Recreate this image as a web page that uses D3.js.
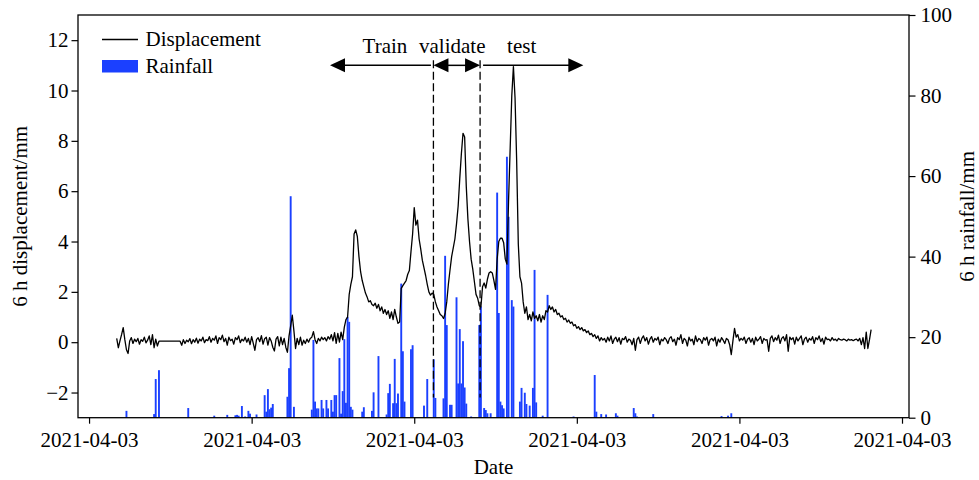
<!DOCTYPE html>
<html>
<head>
<meta charset="utf-8">
<script src="https://cdn.jsdelivr.net/npm/d3@7"></script>
<style>
  body { margin: 0; background: #fff; }
  svg { display: block; }
  text { font-family: "Liberation Serif", "Times New Roman", serif; fill: #000; }
</style>
</head>
<body>
<svg id="chart" width="979" height="480"></svg>
<script>
// x is a step index (6 h each); the axis shows the same date label on every tick
var tickVals = [0, 100, 200, 300, 400, 500];
var tickLabels = ["2021-04-03", "2021-04-03", "2021-04-03", "2021-04-03", "2021-04-03", "2021-04-03"];

// displacement series, one value per step starting at dispStart
var dispStart = 17;
var displacement = [
  0.15,-0.22,0.05,0.3,0.58,0.1,-0.3,-0.45,0.05,0.18,-0.05,0.12,0.02,0.15,-0.08,0.1,0.04,0.2,-0.03,0.08,
  0.25,-0.1,0.3,-0.22,0.12,-0.15,0.04,0.04,0.04,0.04,0.04,0.04,0.04,0.04,0.04,0.04,0.04,0.04,0.04,0.04,
  -0.12,0.1,-0.05,0.08,0.02,0.14,-0.06,0.1,0.0,0.16,-0.04,0.12,0.05,0.2,-0.02,0.1,0.06,0.22,0.0,0.15,
  0.08,0.25,-0.05,0.18,0.1,0.28,0.02,0.15,-0.12,0.2,0.06,0.12,-0.08,0.18,0.1,0.25,-0.02,0.12,0.05,0.2,
  0.0,0.15,-0.1,0.22,-0.05,-0.32,0.1,0.18,0.02,0.26,-0.08,0.14,0.2,-0.12,0.18,0.05,-0.2,-0.35,0.12,0.22,
  -0.15,0.2,-0.1,0.15,-0.2,-0.4,0.25,0.65,1.07,0.45,-0.25,0.15,-0.1,0.2,-0.12,0.08,-0.05,0.12,0.0,0.15,
  0.2,0.42,0.1,-0.05,0.15,0.05,0.2,0.1,0.18,0.05,0.22,0.12,0.3,0.05,0.38,-0.05,0.35,0.0,0.4,0.1,
  0.6,0.9,1.0,1.9,2.3,2.6,4.3,4.46,4.2,3.4,2.8,2.45,2.2,1.95,1.8,1.6,1.65,1.5,1.45,1.55,
  1.35,1.5,1.25,1.4,1.15,1.3,1.1,1.25,0.95,1.2,0.9,1.3,1.0,0.75,0.8,2.14,2.25,2.35,2.45,2.7,
  2.85,3.6,4.3,5.35,4.65,4.85,4.1,3.7,3.25,2.95,2.65,2.3,2.0,1.87,1.95,1.9,1.6,1.4,1.25,1.1,
  1.05,0.94,1.14,1.6,2.3,2.87,3.4,3.75,4.1,4.7,5.4,6.5,7.5,8.3,8.15,6.2,4.9,4.0,3.3,2.9,
  2.4,1.9,1.75,1.45,1.4,2.2,2.35,2.15,2.5,2.75,2.8,2.75,2.45,2.1,3.3,4.0,4.13,4.13,3.95,3.3,
  3.1,5.6,7.7,9.8,10.95,9.7,7.2,3.9,2.6,2.35,1.6,1.15,1.4,0.9,1.1,0.85,1.2,0.95,1.05,0.85,
  1.1,0.8,1.05,0.9,1.25,1.2,1.45,1.3,1.4,1.2,1.3,1.1,1.15,1.0,1.05,0.9,0.95,0.8,0.88,0.75,
  0.8,0.65,0.7,0.55,0.62,0.5,0.58,0.45,0.5,0.38,0.45,0.3,0.35,0.22,0.3,0.15,0.25,0.05,0.18,0.08,
  0.15,0.0,0.2,0.05,0.25,-0.05,0.12,0.2,0.02,0.18,-0.08,0.15,0.1,0.22,0.0,0.12,0.08,-0.1,0.15,-0.32,
  0.1,0.2,-0.05,0.15,0.25,0.05,0.18,-0.08,0.12,0.22,0.0,0.15,0.08,0.2,-0.1,0.12,0.05,0.18,0.1,-0.05,
  0.15,0.22,0.02,0.12,-0.12,0.18,0.1,0.3,-0.05,0.15,0.08,-0.15,0.2,0.05,0.12,-0.1,0.25,0.02,0.15,0.1,
  -0.05,0.18,0.08,0.2,-0.12,0.1,0.15,0.05,0.2,-0.15,0.12,0.0,0.18,0.08,-0.05,0.15,0.1,-0.1,-0.49,0.05,
  0.55,0.2,0.3,0.05,0.15,0.08,0.2,-0.05,0.12,0.18,0.0,0.15,-0.1,0.2,0.05,0.12,0.22,-0.05,0.15,0.08,
  0.1,-0.36,0.15,0.25,0.02,0.18,0.08,0.28,-0.05,0.15,0.22,0.05,0.3,-0.36,0.2,0.1,0.18,-0.08,0.2,0.05,
  0.15,0.25,-0.1,0.12,0.2,0.0,0.15,0.08,0.22,-0.05,0.18,0.1,0.25,0.02,0.15,-0.08,0.2,0.1,0.12,0.05,
  0.18,0.08,0.12,0.05,0.15,0.1,0.08,0.12,0.1,0.05,0.12,0.08,0.1,0.06,0.1,0.12,0.05,0.15,-0.1,0.18,-0.25,0.4,-0.25,0.1,0.5
];

// rainfall: step index and 6 h rainfall (mm), zero steps left out
var rainIdx = [23,40,41,43,61,77,85,90,91,92,94,96,98,99,103,108,109,110,111,112,
  113,122,123,124,126,137,138,139,140,141,143,144,146,147,149,150,151,152,154,155,
  156,157,158,159,160,161,162,168,169,174,175,178,183,184,185,187,188,189,190,192,
  193,194,198,199,206,208,212,213,218,219,220,222,223,226,227,228,229,230,231,232,
  235,240,241,243,244,245,247,251,252,253,254,255,257,258,260,261,265,266,268,269,
  271,273,274,275,279,282,298,311,312,315,318,324,325,335,336,337,347,389,393,395];
var rainVal = [1.7,0.9,9.6,11.8,2.4,0.5,0.7,0.6,0.7,0.5,2.9,0.3,1.7,1.0,0.8,5.6,1.5,7.1,2.1,2.5,
  3.4,5.2,12.3,55,2.7,2.0,19.3,4.0,2.3,2.3,4.4,2.3,4.4,2.3,4.4,1.5,5.6,5.6,14.8,1.0,
  6.6,19.5,3.7,25,23.8,2.7,2.0,1.5,2.6,1.7,6.3,15.3,0.8,6.1,8.4,3.6,14.6,3.6,6.0,33.3,
  16.5,4.0,17,18,3.0,9.6,14.5,4.9,4.8,40.2,23,3.2,3.2,29.9,8.5,22,8.5,19,7.5,3.5,
  0.3,23,27.6,2.4,1.9,1.1,1.1,55.9,26,4.0,3.1,2.3,64.8,49.9,29.2,27.6,4.0,7.4,6.2,3.4,
  3.0,7.4,36.7,3.8,0.5,30.5,0.3,10.6,1.5,0.9,0.8,1.1,0.5,2.4,1.1,0.3,0.9,0.4,0.5,1.1];

// data split (train | validate | test), in step index
var splits = [211.8, 240.5];
var trainTip = 148.2, testTip = 304;
var splitNames = ["Train", "validate", "test"];
var splitTextAt = [182, 223.4, 266.1];

var svg = d3.select("#chart");
var pLeft = 78, pRight = 909, pTop = 15, pBottom = 417.7;
var fs = 21;

var x = d3.scaleLinear().domain([-6.8, 504.3]).range([pLeft, pRight]);
var y = d3.scaleLinear().domain([-3, 13]).range([pBottom, pTop]);
var y2 = d3.scaleLinear().domain([0, 100]).range([pBottom, pTop]);

// rainfall bars (behind the line)
svg.append("g").selectAll("rect")
    .data(rainIdx)
  .enter().append("rect")
    .attr("x", function(d) { return x(d) - 0.95; })
    .attr("width", 1.9)
    .attr("y", function(d, i) { return y2(rainVal[i]); })
    .attr("height", function(d, i) { return y2(0) - y2(rainVal[i]); })
    .attr("fill", "#1b40ff");

var line = d3.line()
    .x(function(d, i) { return x(dispStart + i); })
    .y(function(d) { return y(d); });

svg.append("path")
    .datum(displacement)
    .attr("d", line)
    .attr("fill", "none")
    .attr("stroke", "#000")
    .attr("stroke-width", 1.3)
    .attr("stroke-linejoin", "round");

// dashed split lines
svg.append("g").selectAll("line")
    .data(splits)
  .enter().append("line")
    .attr("x1", function(d) { return x(d); })
    .attr("x2", function(d) { return x(d); })
    .attr("y1", y(11.2))
    .attr("y2", y(-2.2))
    .attr("stroke", "#000")
    .attr("stroke-width", 1.3)
    .attr("stroke-dasharray", "8,3.5");

// arrows
var ay = y(11), hl = 15, hw = 7;
function head(tip, dir) {
  var bx = tip - dir * hl;
  return "M" + tip + "," + ay + "L" + bx + "," + (ay - hw) + "L" + bx + "," + (ay + hw) + "Z";
}
var arr = svg.append("g");
function seg(a, b) {
  arr.append("line").attr("x1", a).attr("x2", b).attr("y1", ay).attr("y2", ay)
    .attr("stroke", "#000").attr("stroke-width", 1.5);
}
seg(x(splits[0]) - 2.5, x(trainTip) + hl - 1);
arr.append("path").attr("d", head(x(trainTip), -1));
seg(x(splits[0]) + hl - 1, x(splits[1]) - hl + 1);
arr.append("path").attr("d", head(x(splits[0]), -1));
arr.append("path").attr("d", head(x(splits[1]), 1));
seg(x(splits[1]) + 3, x(testTip) - hl + 1);
arr.append("path").attr("d", head(x(testTip), 1));

svg.append("g").selectAll("text")
    .data(splitNames)
  .enter().append("text")
    .attr("x", function(d, i) { return x(splitTextAt[i]); })
    .attr("y", y(11.5))
    .attr("text-anchor", "middle")
    .attr("font-size", fs)
    .text(function(d) { return d; });

// frame
svg.append("rect")
    .attr("x", pLeft).attr("y", pTop)
    .attr("width", pRight - pLeft).attr("height", pBottom - pTop)
    .attr("fill", "none").attr("stroke", "#000").attr("stroke-width", 1.3);

// axes
function styleAxis(g) {
  g.select(".domain").remove();
  g.selectAll(".tick line").attr("stroke", "#000").attr("stroke-width", 1.2);
  g.selectAll(".tick text").attr("font-size", fs)
    .attr("font-family", "'Liberation Serif', 'Times New Roman', serif").attr("fill", "#000");
}

svg.append("g")
    .attr("transform", "translate(0," + pBottom + ")")
    .call(d3.axisBottom(x).tickValues(tickVals)
      .tickFormat(function(d, i) { return tickLabels[i]; })
      .tickSize(6).tickPadding(8))
    .call(styleAxis);

svg.append("g")
    .attr("transform", "translate(" + pLeft + ",0)")
    .call(d3.axisLeft(y).tickValues([-2, 0, 2, 4, 6, 8, 10, 12]).tickSize(6.5).tickPadding(3))
    .call(styleAxis);

svg.append("g")
    .attr("transform", "translate(" + pRight + ",0)")
    .call(d3.axisRight(y2).tickValues([0, 20, 40, 60, 80, 100]).tickSize(6.5).tickPadding(5))
    .call(styleAxis);

// axis titles
svg.append("text")
    .attr("x", (pLeft + pRight) / 2).attr("y", 474)
    .attr("text-anchor", "middle").attr("font-size", fs)
    .text("Date");

svg.append("text")
    .attr("transform", "translate(27," + (pTop + pBottom) / 2 + ") rotate(-90)")
    .attr("text-anchor", "middle").attr("font-size", fs)
    .text("6 h displacement/mm");

svg.append("text")
    .attr("transform", "translate(974," + (pTop + pBottom) / 2 + ") rotate(-90)")
    .attr("text-anchor", "middle").attr("font-size", fs)
    .text("6 h rainfall/mm");

// legend
var lg = svg.append("g");
lg.append("line").attr("x1", 102).attr("x2", 138).attr("y1", 39.5).attr("y2", 39.5)
  .attr("stroke", "#000").attr("stroke-width", 1.3);
lg.append("text").attr("x", 145.5).attr("y", 46).attr("font-size", fs).text("Displacement");
lg.append("rect").attr("x", 102).attr("y", 60).attr("width", 36).attr("height", 12.5)
  .attr("fill", "#1b40ff");
lg.append("text").attr("x", 145.5).attr("y", 72.5).attr("font-size", fs).text("Rainfall");
</script>
</body>
</html>
